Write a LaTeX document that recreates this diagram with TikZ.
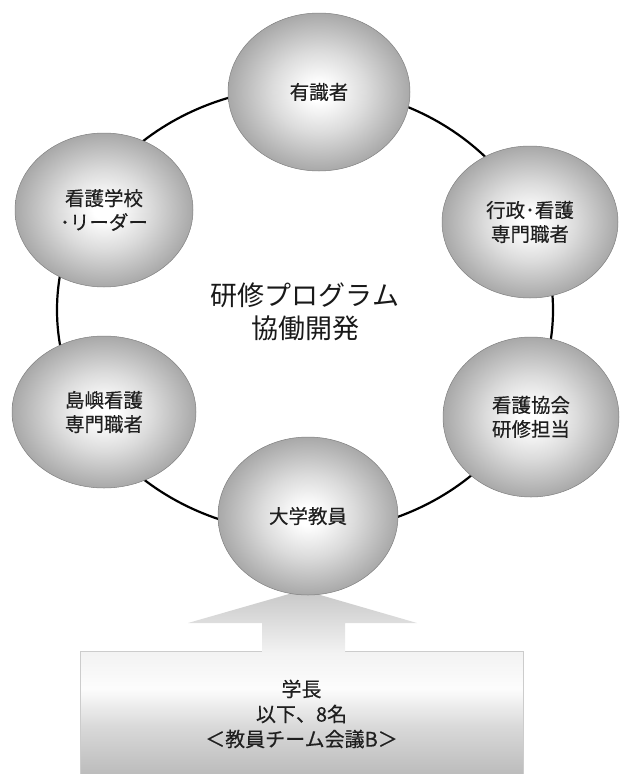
\documentclass[tikz,border=0pt]{standalone}
\usepackage{fontspec}
\setmainfont{Noto Sans CJK JP}[BoldFont={Noto Sans CJK JP}, BoldFeatures={FakeBold=0.35}]
\usetikzlibrary{shapes.geometric}
\pgfdeclareradialshading{ballgray}{\pgfpoint{0bp}{0bp}}{color(0bp)=(white); color(3bp)=(white); color(13bp)=(black!14); color(25bp)=(black!34); color(50bp)=(black!34)}
\pgfdeclareverticalshading{arrowgray}{100bp}{color(0bp)=(black!5); color(25bp)=(black!5); color(75bp)=(black!22); color(100bp)=(black!22)}
\pgfdeclareverticalshading{boxgray}{100bp}{color(0bp)=(black!27); color(25bp)=(black!27); color(45bp)=(black!15); color(60bp)=(black!1); color(75bp)=(black!5); color(100bp)=(black!5)}
\tikzset{
  ball/.style={ellipse, shading=ballgray, draw=black!50, line width=0.5pt, inner sep=0pt,
    align=center, text=black!88, font=\bfseries\fontsize{19.5}{24}\selectfont},
  ring/.style={draw=black, line width=2.2pt},
  teambox/.style={rectangle, shading=boxgray, draw=black!20, line width=0.8pt, inner sep=0pt,
    align=center, text=black!88, font=\bfseries\fontsize{20}{25}\selectfont},
  arrowbody/.style={shading=arrowgray},
  centerlabel/.style={align=center, text=black!90, font=\fontsize{27}{33}\selectfont}
}
\begin{document}
\begin{tikzpicture}[x=1pt, y=-1pt]
\useasboundingbox (0,0) rectangle (619,774);
% ring behind the members
\draw[ring] (305,310) ellipse [x radius=248pt, y radius=223pt];
% team box and arrow
\node[teambox, minimum width=443pt, minimum height=126pt] (team) at (301.5,714)
  {学長\\以下、8名\\＜教員チーム会議B＞};
\path[arrowbody] (303,590) -- (417,623) -- (345,623) -- (345,652.5) -- (262,652.5) -- (262,623) -- (188,623) -- cycle;
% members
\node[ball, minimum width=182pt, minimum height=158pt] (yushiki) at (319,92) {有識者};
\node[ball, minimum width=176pt, minimum height=152pt] (gyosei) at (530,222) {行政･看護\\専門職者};
\node[ball, minimum width=176pt, minimum height=160pt] (kyokai) at (531,417) {看護協会\\研修担当};
\node[ball, minimum width=180pt, minimum height=158pt] (daigaku) at (308,516) {大学教員};
\node[ball, minimum width=184pt, minimum height=152pt] (tosho) at (104,412) {島嶼看護\\専門職者};
\node[ball, minimum width=178pt, minimum height=154pt] (gakko) at (104,210) {看護学校\\･リーダー};
% centre
\node[centerlabel] (center) at (305,312) {研修プログラム\\協働開発};
\end{tikzpicture}
\end{document}
